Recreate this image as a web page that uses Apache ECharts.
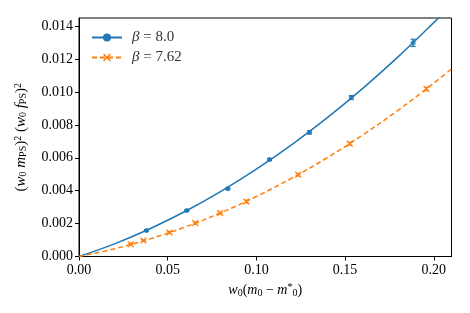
<!DOCTYPE html>
<html><head><meta charset="utf-8">
<script src="https://cdn.jsdelivr.net/npm/echarts@6/dist/echarts.min.js"></script>
<style>html,body{margin:0;padding:0;background:#fff}#c{width:470px;height:313px}</style>
</head><body><div id="c"></div>
<script>
// data
const b80X   = [0.0380, 0.0608, 0.0839, 0.1074, 0.1300, 0.1535, 0.1884];
const b80Y   = [0.00158, 0.00280, 0.00412, 0.00589, 0.00755, 0.00966, 0.01299];
const b80Err = [0.00005, 0.00005, 0.00005, 0.00006, 0.00010, 0.00012, 0.00022];
const b762X   = [0.0292, 0.0363, 0.0510, 0.0655, 0.0796, 0.0943, 0.1236, 0.1526, 0.1959];
const b762Y   = [0.00075, 0.00097, 0.00146, 0.00203, 0.00264, 0.00335, 0.00497, 0.00686, 0.01019];
const b762Err = [0.00006, 0.00006, 0.00006, 0.00007, 0.00007, 0.00008, 0.00008, 0.00009, 0.00010];
// fit curves
const fitX    = [0, 0.02, 0.04, 0.06, 0.08, 0.10, 0.12, 0.14, 0.16, 0.18, 0.20, 0.21];
const fit80Y  = [0, 0.00077, 0.00169, 0.00275, 0.00396, 0.00531, 0.00680, 0.00844, 0.01022, 0.01215, 0.01422, 0.01530];
const fit762Y = [0, 0.00047, 0.00107, 0.00180, 0.00266, 0.00365, 0.00477, 0.00601, 0.00739, 0.00890, 0.01054, 0.01140];
const xTicks = [0, 0.05, 0.10, 0.15, 0.20];
const yTicks = [0, 0.002, 0.004, 0.006, 0.008, 0.010, 0.012, 0.014];
const legendNames = ['β = 8.0', 'β = 7.62'];

const BLUE = '#1f77b4', ORANGE = '#ff7f0e';
const FONT = 'Liberation Serif';
const XPATH = 'path://M0,1.4L1.4,0L5,3.6L8.6,0L10,1.4L6.4,5L10,8.6L8.6,10L5,6.4L1.4,10L0,8.6L3.6,5Z';

const zip = (a, b) => a.map((v, i) => [v, b[i]]);
const errData = (x, y, e) => x.map((v, i) => [v, y[i] - e[i], y[i] + e[i]]);

function errRender(color) {
  return function (params, api) {
    const x = api.value(0), lo = api.value(1), hi = api.value(2);
    const p1 = api.coord([x, lo]), p2 = api.coord([x, hi]);
    const w = 2.5;
    const st = { stroke: color, lineWidth: 1.2 };
    return { type: 'group', children: [
      { type: 'line', shape: { x1: p1[0], y1: p1[1], x2: p2[0], y2: p2[1] }, style: st },
      { type: 'line', shape: { x1: p1[0] - w, y1: p1[1], x2: p1[0] + w, y2: p1[1] }, style: st },
      { type: 'line', shape: { x1: p2[0] - w, y1: p2[1], x2: p2[0] + w, y2: p2[1] }, style: st }
    ]};
  };
}

const chart = echarts.init(document.getElementById('c'), null, { renderer: 'canvas' });
const sub = { fontFamily: FONT, fontSize: 10, padding: [5, 0, 0, 0], color: '#000' };
const sup = { fontFamily: FONT, fontSize: 10, padding: [0, 0, 6, 0], color: '#000' };
const it = { fontFamily: FONT, fontSize: 14, fontStyle: 'italic', color: '#000' };
const rm = { fontFamily: FONT, fontSize: 14, color: '#000' };
const itY = Object.assign({}, it, { fontSize: 15 });
const rmY = Object.assign({}, rm, { fontSize: 15 });

chart.setOption({
  animation: false,
  grid: { left: 79, right: 18.5, top: 18, bottom: 56.5, show: true, borderColor: '#000', borderWidth: 1, containLabel: false },
  legend: {
    left: 86, top: 25, orient: 'vertical', itemGap: 5, itemWidth: 30, itemHeight: 10,
    data: legendNames,
    formatter: n => '{i|β}{r|' + n.slice(1) + '}',
    textStyle: { rich: {
      i: { fontFamily: FONT, fontSize: 15, fontStyle: 'italic', color: '#333', padding: [0, 0, 0, 5] },
      r: { fontFamily: FONT, fontSize: 15, color: '#333' } } }
  },
  xAxis: {
    type: 'value', min: 0, max: 0.21,
    name: '{i|w}{s|0}{r|(}{i|m}{s|0}{r| − }{i|m}{ss|*}{s|0}{r|)}',
    nameLocation: 'middle', nameGap: 26,
    nameTextStyle: { rich: { i: it, r: rm, s: sub, ss: sup } },
    axisLine: { lineStyle: { color: '#000' } },
    axisTick: { inside: false, length: 4, lineStyle: { color: '#000' }, customValues: xTicks },
    axisLabel: { customValues: xTicks, formatter: v => v.toFixed(2), fontFamily: FONT, fontSize: 14, color: '#000', margin: 7 },
    splitLine: { show: false }
  },
  yAxis: {
    type: 'value', min: 0, max: 0.0145,
    name: '{r|(}{i|w}{s|0}{r| }{i|m}{s|PS}{r|)}{p|2}{r| (}{i|w}{s|0}{r| }{i|f}{s|PS}{r|)}{p|2}',
    nameLocation: 'middle', nameGap: 50,
    nameTextStyle: { rich: { i: itY, r: rmY, s: sub, p: sup } },
    axisLine: { lineStyle: { color: '#000' } },
    axisTick: { inside: false, length: 4, lineStyle: { color: '#000' }, customValues: yTicks },
    axisLabel: { customValues: yTicks, formatter: v => v.toFixed(3), fontFamily: FONT, fontSize: 14, color: '#000', margin: 6 },
    splitLine: { show: false }
  },
  series: [
    { name: legendNames[0], type: 'line', data: zip(fitX, fit80Y), smooth: 0.4, showSymbol: false,
      symbol: 'circle', symbolSize: 5, color: BLUE, lineStyle: { color: BLUE, width: 1.5 }, itemStyle: { color: BLUE }, z: 2 },
    { name: legendNames[1], type: 'line', data: zip(fitX, fit762Y), smooth: 0.4, showSymbol: false,
      symbol: XPATH, symbolSize: 7, color: ORANGE, lineStyle: { color: ORANGE, width: 1.5, type: [5, 3] }, itemStyle: { color: ORANGE }, z: 2 },
    { type: 'custom', renderItem: errRender(BLUE), data: errData(b80X, b80Y, b80Err), encode: { x: 0, y: [1, 2] }, z: 3, silent: true },
    { type: 'custom', renderItem: errRender(ORANGE), data: errData(b762X, b762Y, b762Err), encode: { x: 0, y: [1, 2] }, z: 3, silent: true },
    { type: 'scatter', data: zip(b80X, b80Y), symbol: 'circle', symbolSize: 5, itemStyle: { color: BLUE }, z: 4, silent: true },
    { type: 'scatter', data: zip(b762X, b762Y), symbol: XPATH, symbolSize: 7, itemStyle: { color: ORANGE }, z: 4, silent: true }
  ]
});
</script></body></html>
